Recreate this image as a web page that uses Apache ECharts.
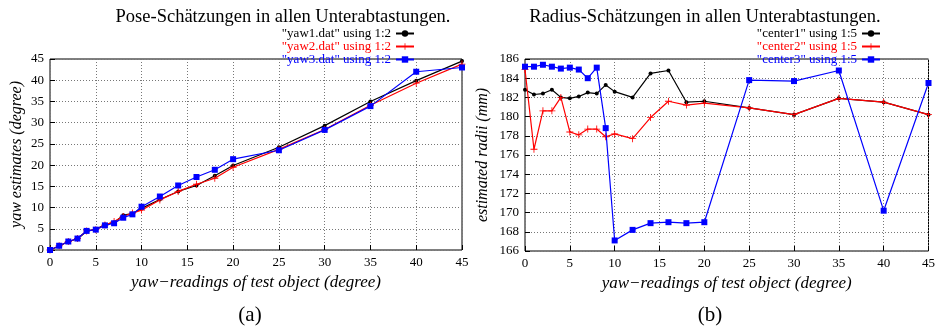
<!DOCTYPE html>
<html>
<head>
<meta charset="utf-8">
<script src="https://cdn.jsdelivr.net/npm/echarts@6/dist/echarts.min.js"></script>
<style>
  html, body { margin: 0; padding: 0; background: #fff; }
  #chart { width: 938px; height: 329px; }
</style>
</head>
<body>
<div id="chart"></div>
<script>
// Yaw readings of the test object (degree), shared by both panels
const yawReadings = [0, 1, 2, 3, 4, 5, 6, 7, 8, 9, 10, 12, 14, 16, 18, 20, 25, 30, 35, 40, 45];

// (a) pose estimates (degree)
const yaw1 = [0, 0.9, 2.0, 2.6, 4.4, 4.9, 6.0, 6.5, 8.2, 8.6, 9.8, 11.9, 13.8, 15.2, 17.5, 19.9, 24.2, 29.3, 35.0, 39.9, 44.5];
const yaw2 = [0, 1.0, 2.0, 2.7, 4.5, 4.8, 5.9, 6.7, 7.9, 8.7, 9.4, 11.8, 13.8, 15.5, 16.9, 19.5, 23.7, 28.4, 34.1, 39.3, 43.8];
const yaw3 = [0, 1.0, 2.0, 2.7, 4.5, 4.8, 5.8, 6.3, 7.6, 8.4, 10.2, 12.6, 15.2, 17.2, 18.9, 21.4, 23.5, 28.3, 33.9, 42.0, 43.0];

// (b) radius estimates (mm)
const center1 = [182.8, 182.3, 182.4, 182.8, 182.0, 181.9, 182.1, 182.5, 182.4, 183.3, 182.6, 182.0, 184.5, 184.8, 181.5, 181.6, 180.9, 180.2, 181.9, 181.5, 180.2];
const center2 = [184.9, 176.6, 180.6, 180.6, 182.0, 178.4, 178.1, 178.7, 178.7, 177.9, 178.2, 177.7, 179.9, 181.6, 181.2, 181.4, 180.9, 180.2, 181.9, 181.5, 180.2];
const center3 = [185.2, 185.2, 185.4, 185.2, 185.0, 185.1, 184.9, 184.0, 185.1, 178.8, 167.1, 168.2, 168.9, 169.0, 168.9, 169.0, 183.8, 183.7, 184.8, 170.2, 183.5];

// Axis ranges and ticks
const xTicks = { min: 0, max: 45, interval: 5 };
const yawTicks = { min: 0, max: 45, interval: 5 };
const radiusTicks = { min: 166, max: 186, interval: 2 };

// Titles and labels
const titles = ['Pose-Schätzungen in allen Unterabtastungen.', 'Radius-Schätzungen in allen Unterabtastungen.'];
const xName = 'yaw\u2212readings of test object (degree)';
const yNames = ['yaw estimates (degree)', 'estimated radii (mm)'];
const panelTags = ['(a)', '(b)'];
const names1 = ['"yaw1.dat" using 1:2', '"yaw2.dat" using 1:2', '"yaw3.dat" using 1:2'];
const names2 = ['"center1" using 1:5', '"center2" using 1:5', '"center3" using 1:5'];

const FONT = '"Liberation Serif", "DejaVu Serif", serif';
const COLORS = ['#000000', '#ff0000', '#0000ff'];
const PLUS = 'path://M0,4.4H10V5.6H0Z M4.4,0H5.6V10H4.4Z';
const SYMBOLS = ['circle', PLUS, 'rect'];
const SIZES = [4, 7, 6];

const pair = vals => yawReadings.map((x, i) => [x, vals[i]]);

function makeSeries(names, sets, axisIndex) {
  return sets.map((vals, k) => ({
    name: names[k],
    type: 'line',
    xAxisIndex: axisIndex,
    yAxisIndex: axisIndex,
    data: pair(vals),
    symbol: SYMBOLS[k],
    symbolSize: SIZES[k],
    showAllSymbol: true,
    animation: false,
    lineStyle: { color: COLORS[k], width: 1.2 },
    itemStyle: { color: COLORS[k] },
    z: 3 + k
  }));
}

function xAxis(gridIndex) {
  return {
    type: 'value', gridIndex, ...xTicks,
    name: xName, nameLocation: 'middle', nameGap: 22,
    nameTextStyle: { fontFamily: FONT, fontStyle: 'italic', fontSize: 17, color: '#000' },
    axisLine: { show: false },
    axisTick: { inside: true, length: 5, lineStyle: { color: '#000' } },
    axisLabel: { fontFamily: FONT, fontSize: 13, color: '#000', margin: 6 },
    splitLine: { show: true, lineStyle: { color: '#777', type: [1, 2], width: 1 } }
  };
}

function yAxis(gridIndex, ticks, name, gap) {
  return {
    type: 'value', gridIndex, ...ticks,
    name, nameLocation: 'middle', nameGap: gap,
    nameTextStyle: { fontFamily: FONT, fontStyle: 'italic', fontSize: 16, color: '#000' },
    axisLine: { show: false },
    axisTick: { inside: true, length: 5, lineStyle: { color: '#000' } },
    axisLabel: { fontFamily: FONT, fontSize: 13, color: '#000', margin: 6 },
    splitLine: { show: true, lineStyle: { color: '#777', type: [1, 2], width: 1 } }
  };
}

function legend(names, right) {
  return {
    orient: 'vertical', right, top: 27,
    align: 'right', itemGap: 0, itemWidth: 18, itemHeight: 8,
    textStyle: { fontFamily: FONT, fontSize: 13, lineHeight: 12.5, padding: [0, 0, 0, 0] },
    padding: 0,
    data: names.map((n, k) => ({ name: n, textStyle: { color: COLORS[k] } }))
  };
}

const titleStyle = { fontFamily: FONT, fontWeight: 'normal', fontSize: 18.5, color: '#000' };
const tagStyle = { fontFamily: FONT, fontWeight: 'normal', fontSize: 21, color: '#000' };

const chart = echarts.init(document.getElementById('chart'), null, { renderer: 'canvas' });
chart.setOption({
  backgroundColor: '#fff',
  animation: false,
  title: [
    { text: titles[0], left: 278, top: 3, textAlign: 'center', textStyle: titleStyle },
    { text: titles[1], left: 700, top: 3, textAlign: 'center', textStyle: titleStyle },
    { text: panelTags[0], left: 245, top: 300, textAlign: 'center', textStyle: tagStyle },
    { text: panelTags[1], left: 705, top: 300, textAlign: 'center', textStyle: tagStyle }
  ],
  legend: [legend(names1, 523), legend(names2, 57)],
  grid: [
    { left: 50, right: 476, top: 59, bottom: 79, show: true, borderColor: '#000', borderWidth: 1, backgroundColor: 'transparent' },
    { left: 525, right: 8, top: 59, bottom: 78, show: true, borderColor: '#000', borderWidth: 1, backgroundColor: 'transparent' }
  ],
  xAxis: [xAxis(0), xAxis(1)],
  yAxis: [yAxis(0, yawTicks, yNames[0], 25), yAxis(1, radiusTicks, yNames[1], 34)],
  series: [
    ...makeSeries(names1, [yaw1, yaw2, yaw3], 0),
    ...makeSeries(names2, [center1, center2, center3], 1)
  ]
});
</script>
</body>
</html>
